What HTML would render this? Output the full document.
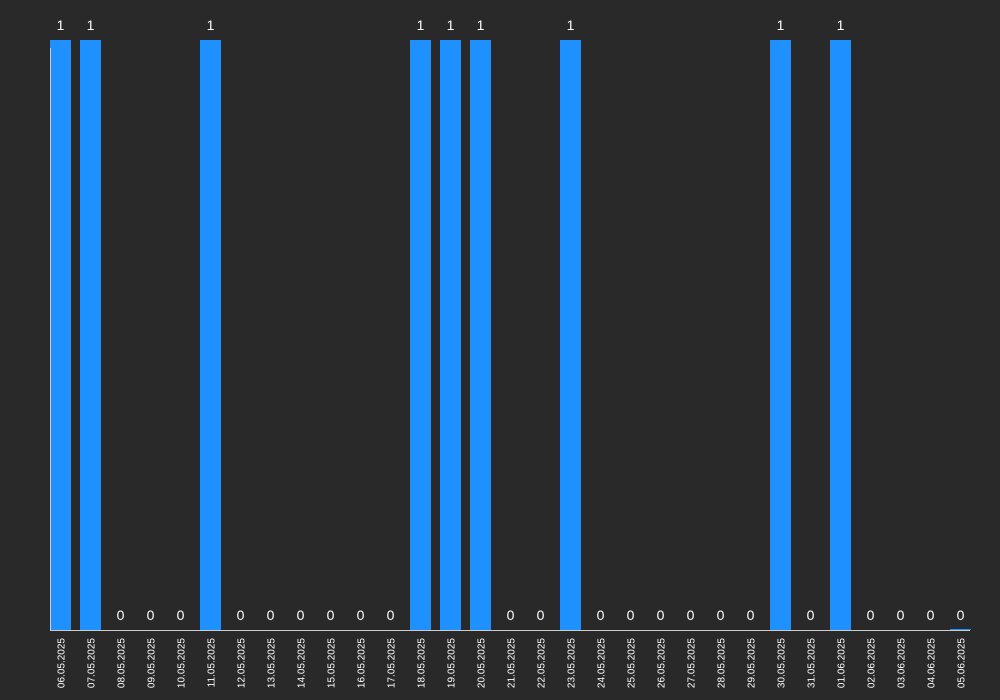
<!DOCTYPE html>
<html><head><style>
html,body{margin:0;padding:0;background:#292929;}
svg{display:block;font-family:"Liberation Sans",sans-serif;}
</style></head><body>
<svg id="chart" width="1000" height="700">
<rect width="1000" height="700" fill="#292929"/>
<g id="bars"></g>
<line x1="50.5" y1="48" x2="50.5" y2="630" stroke="#cccccc" stroke-width="1"/>
<line x1="50" y1="630.5" x2="970" y2="630.5" stroke="#cccccc" stroke-width="1"/>
<g id="overlay"></g>
</svg>
<script>
const categories = ["06.05.2025","07.05.2025","08.05.2025","09.05.2025","10.05.2025","11.05.2025","12.05.2025","13.05.2025","14.05.2025","15.05.2025","16.05.2025","17.05.2025","18.05.2025","19.05.2025","20.05.2025","21.05.2025","22.05.2025","23.05.2025","24.05.2025","25.05.2025","26.05.2025","27.05.2025","28.05.2025","29.05.2025","30.05.2025","31.05.2025","01.06.2025","02.06.2025","03.06.2025","04.06.2025","05.06.2025"];
const values = [1,1,0,0,0,1,0,0,0,0,0,0,1,1,1,0,0,1,0,0,0,0,0,0,1,0,1,0,0,0,0];
const yMax = 1;

const NS = "http://www.w3.org/2000/svg";
const x0 = 50, step = 30, barW = 21, yTop = 40, yBase = 630;
function xPos(i){ return x0 + i*step; }
function yPos(v){ return yBase - (v/yMax)*(yBase-yTop); }
const bars = document.getElementById("bars");
const overlay = document.getElementById("overlay");
categories.forEach((c,i)=>{
  const v = values[i];
  const x = xPos(i);
  const y = yPos(v);
  const r = document.createElementNS(NS,"rect");
  r.setAttribute("x", x);
  r.setAttribute("y", y);
  r.setAttribute("width", barW);
  r.setAttribute("height", Math.max(yBase-y, 0));
  r.setAttribute("fill","#1e90ff");
  
  
  bars.appendChild(r);
  const t = document.createElementNS(NS,"text");
  t.setAttribute("x", x + barW/2);
  t.setAttribute("y", y - 10);
  t.setAttribute("text-anchor","middle");
  t.setAttribute("fill","#ffffff");
  t.setAttribute("font-size","14");
  t.textContent = v;
  
  
  overlay.appendChild(t);
  const l = document.createElementNS(NS,"text");
  const lx = x + barW/2 + 4, ly = 638;
  l.setAttribute("x", lx);
  l.setAttribute("y", ly);
  l.setAttribute("text-anchor","end");
  l.setAttribute("fill","#ffffff");
  l.setAttribute("font-size","10");
  l.setAttribute("transform","rotate(-90 "+lx+" "+ly+")");
  l.textContent = c;
  
  
  overlay.appendChild(l);
  if (v === 0) {
    const b = document.createElementNS(NS,"line");
    b.setAttribute("x1", x); b.setAttribute("x2", x+barW);
    b.setAttribute("y1", yBase-0.5); b.setAttribute("y2", yBase-0.5);
    b.setAttribute("stroke", i===categories.length-1 ? "#1e90ff" : "none");
    
    
    overlay.appendChild(b);
  }
});
</script>
</body></html>
